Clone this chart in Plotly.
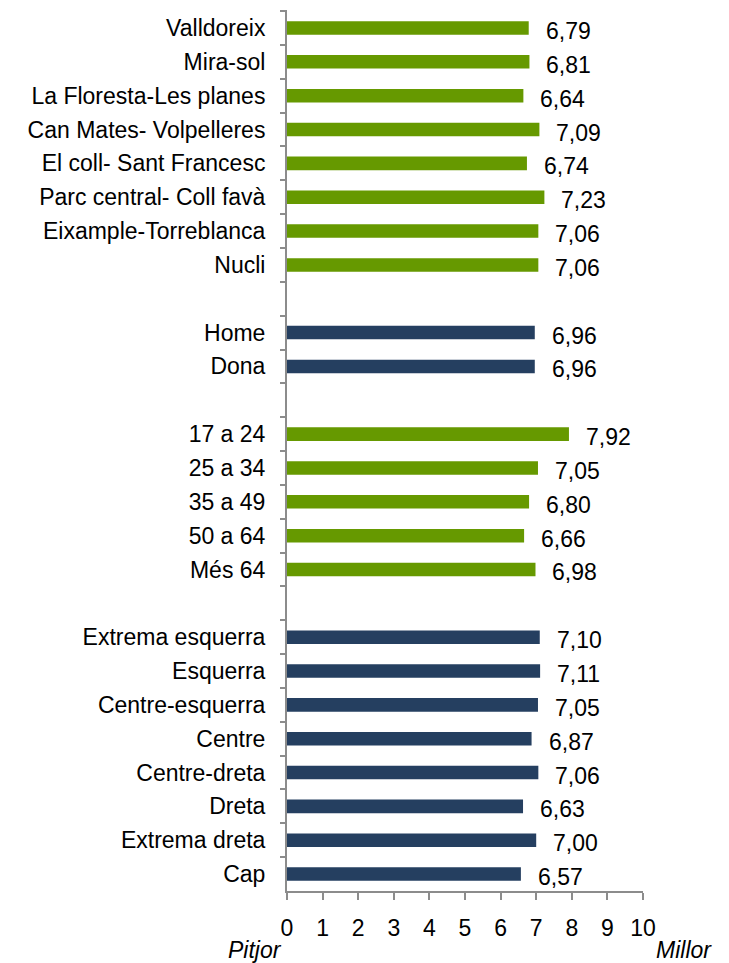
import plotly.graph_objects as go

# ---- data ----
barris = ["Valldoreix", "Mira-sol", "La Floresta-Les planes", "Can Mates- Volpelleres",
          "El coll- Sant Francesc", "Parc central- Coll favà", "Eixample-Torreblanca", "Nucli"]
barris_vals = [6.79, 6.81, 6.64, 7.09, 6.74, 7.23, 7.06, 7.06]

sexe = ["Home", "Dona"]
sexe_vals = [6.96, 6.96]

edat = ["17 a 24", "25 a 34", "35 a 49", "50 a 64", "Més 64"]
edat_vals = [7.92, 7.05, 6.80, 6.66, 6.98]

ideologia = ["Extrema esquerra", "Esquerra", "Centre-esquerra", "Centre",
             "Centre-dreta", "Dreta", "Extrema dreta", "Cap"]
ideologia_vals = [7.10, 7.11, 7.05, 6.87, 7.06, 6.63, 7.00, 6.57]

x_ticks = list(range(0, 11))
scale_low = "Pitjor"
scale_high = "Millor"

GREEN = "#669900"
NAVY = "#253f60"
AXIS = "#8c8c8c"
FONT = "Liberation Sans, Arial, sans-serif"
FS = 23

groups = [(barris, barris_vals, GREEN), (sexe, sexe_vals, NAVY),
          (edat, edat_vals, GREEN), (ideologia, ideologia_vals, NAVY)]

# full category order (top to bottom) with blank spacer slots between groups
cat_order = []
for gi, (cats, vals, col) in enumerate(groups):
    cat_order += cats
    if gi < len(groups) - 1:
        cat_order.append(" " * (gi + 1))

fig = go.Figure()
for cats, vals, col in groups:
    fig.add_trace(go.Bar(
        y=cats, x=vals, orientation="h", width=0.4,
        marker=dict(color=col, line=dict(width=0)),
        showlegend=False, hoverinfo="skip",
    ))
    for c, v in zip(cats, vals):
        fig.add_annotation(
            x=v, y=c, xref="x", yref="y",
            text=f"{v:.2f}".replace(".", ","),
            showarrow=False, xanchor="left", yanchor="middle",
            xshift=15, yshift=-3,
            font=dict(family=FONT, size=FS, color="#000000"),
        )

fig.add_annotation(x=0, y=0, xref="paper", yref="paper", text="<i>" + scale_low + "</i>",
                   showarrow=False, xanchor="right", yanchor="middle",
                   xshift=-3, yshift=-59,
                   font=dict(family=FONT, size=FS, color="#000000"))
fig.add_annotation(x=1, y=0, xref="paper", yref="paper", text="<i>" + scale_high + "</i>",
                   showarrow=False, xanchor="left", yanchor="middle",
                   xshift=11, yshift=-59,
                   font=dict(family=FONT, size=FS, color="#000000"))

# page body has an 8px margin: offset the figure so it lines up with the 729x963 window
fig.update_layout(
    width=721, height=955,
    margin=dict(l=279, r=86, t=2, b=72),
    plot_bgcolor="white", paper_bgcolor="white",
    font=dict(family=FONT, size=FS, color="#000000"),
)

fig.update_xaxes(
    range=[0, 10], tickvals=x_ticks, ticktext=[str(t) for t in x_ticks],
    showgrid=False, zeroline=False,
    showline=True, linecolor=AXIS, linewidth=2,
    ticks="outside", ticklen=7, tickwidth=2, tickcolor=AXIS,
    ticklabelstandoff=8,
    tickfont=dict(family=FONT, size=FS, color="#000000"),
    fixedrange=True,
)
fig.update_yaxes(
    type="category", categoryorder="array", categoryarray=cat_order,
    autorange="reversed",
    showgrid=False, zeroline=False,
    showline=True, linecolor=AXIS, linewidth=2,
    ticks="outside", tickson="boundaries", ticklen=5, tickwidth=2, tickcolor=AXIS,
    ticklabelstandoff=15,
    tickfont=dict(family=FONT, size=FS, color="#000000"),
    fixedrange=True,
)

fig.write_html("out.html")
